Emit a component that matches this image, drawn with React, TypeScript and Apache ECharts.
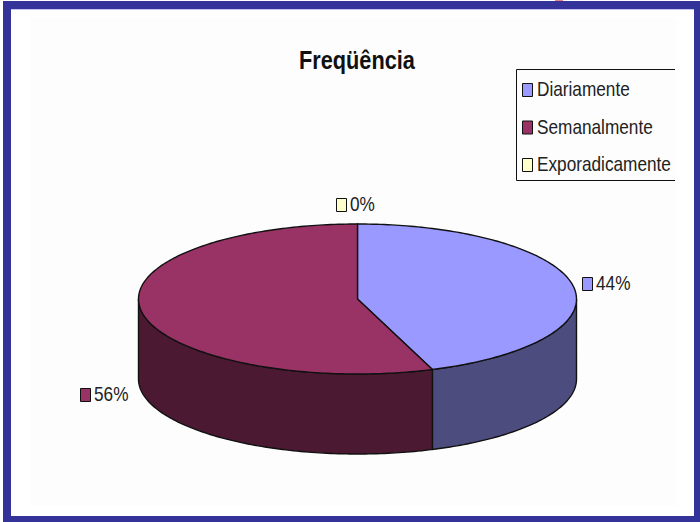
import React, { useEffect, useRef } from "react";
import * as echarts from "echarts";

const categories = ["Diariamente", "Semanalmente", "Exporadicamente"];
const values = [4, 5, 0];
const percentLabels = ["44%", "56%", "0%"];
const titleText = "Freqüência";
const topColors = ["#9999FF", "#993366", "#FFFFCC"];
const sideColors = ["#4C4C7F", "#4C1933", "#7F7F66"];
// label marker offsets from the slice's rim mid-point
const labelOffsets = [[14, -3], [-57, 82], [-16, -20]];
const legendRows = [90, 127.5, 165];

const FONT = '"Liberation Sans", Arial, sans-serif';
const CX = 357.5, CY = 299, RX = 219, RY = 75, DEPTH = 80;
const EDGE = "#111111";
const NARROW = 0.82;

const total = values.reduce((a, b) => a + b, 0);

function rim(deg: number, dy = 0): number[] {
  const t = (deg * Math.PI) / 180;
  return [CX + RX * Math.sin(t), CY - RY * Math.cos(t) + dy];
}
function arc(a: number, b: number, dy = 0): number[][] {
  const pts: number[][] = [];
  const n = Math.max(1, Math.ceil(Math.abs(b - a)));
  for (let i = 0; i <= n; i++) pts.push(rim(a + ((b - a) * i) / n, dy));
  return pts;
}
function narrowText(text: string, x: number, y: number, font: string, fill: string) {
  return {
    type: "text",
    x,
    y,
    scaleX: NARROW,
    style: { x: 0, y: 0, text, font, fill, textAlign: "left", textVerticalAlign: "middle" },
  };
}

function sliceItem(index: number) {
  const before = values.slice(0, index).reduce((a, b) => a + b, 0);
  return (_params: any, api: any) => {
    const v = api.value(0);
    const a0 = (before / total) * 360;
    const a1 = ((before + v) / total) * 360;
    const children: any[] = [];
    const s0 = Math.max(a0, 90), s1 = Math.min(a1, 270);
    if (s1 > s0) {
      children.push({
        type: "polygon",
        shape: { points: [...arc(s0, s1), ...arc(s1, s0, DEPTH)] },
        style: { fill: sideColors[index], stroke: EDGE, lineWidth: 1.4 },
      });
    }
    if (a1 > a0) {
      children.push({
        type: "polygon",
        shape: { points: [[CX, CY], ...arc(a0, a1)] },
        style: { fill: topColors[index], stroke: EDGE, lineWidth: 1.4 },
      });
    }
    const mid = rim((a0 + a1) / 2);
    const mx = mid[0] + labelOffsets[index][0];
    const my = mid[1] + labelOffsets[index][1];
    children.push({
      type: "rect",
      shape: { x: Math.round(mx) - 5 + 0.5, y: Math.round(my) - 6 + 0.5, width: 10, height: 13 },
      style: { fill: topColors[index], stroke: EDGE, lineWidth: 1 },
    });
    children.push(narrowText(percentLabels[index], Math.round(mx) + 9, Math.round(my), `21px ${FONT}`, "#222222"));
    return { type: "group", children };
  };
}

export default function App() {
  const ref = useRef<HTMLDivElement>(null);
  useEffect(() => {
    const chart = echarts.init(ref.current!, undefined, { renderer: "svg" });
    chart.setOption({
      animation: false,
      backgroundColor: "#FFFFFF",
      graphic: [
        { type: "rect", z: -10, shape: { x: 3, y: 1, width: 697, height: 521 }, style: { fill: "#333399" } },
        { type: "rect", z: -9, shape: { x: 11, y: 9, width: 683, height: 507 }, style: { fill: "#FFFFFF" } },
        { type: "rect", z: -8, shape: { x: 11, y: 9, width: 683, height: 1 }, style: { fill: "#C4C4F0" } },
        { type: "rect", z: -8, shape: { x: 30, y: 18, width: 646, height: 488 }, style: { fill: "#FDFDFD" } },
        { type: "rect", z: -8, shape: { x: 555, y: 0, width: 8, height: 1 }, style: { fill: "#F08080" } },
        {
          type: "polyline",
          z: -7,
          shape: { points: [[675, 69.5], [516.5, 69.5], [516.5, 180.5], [675, 180.5]] },
          style: { fill: "none", stroke: EDGE, lineWidth: 1 },
        },
        narrowText(titleText, 299, 60, `bold 26.5px ${FONT}`, "#111111"),
        ...categories.flatMap((name, i) => [
          {
            type: "rect",
            shape: { x: 522.5, y: legendRows[i] - 6.5, width: 10, height: 13 },
            style: { fill: topColors[i], stroke: EDGE, lineWidth: 1 },
          },
          narrowText(name, 537, legendRows[i] - 1, `21px ${FONT}`, "#222222"),
        ]),
      ],
      series: categories.map((name, i) => ({
        type: "custom",
        name,
        coordinateSystem: "none",
        silent: true,
        itemStyle: { color: topColors[i] },
        renderItem: sliceItem(i),
        data: [[values[i]]],
      })),
    });
    return () => chart.dispose();
  }, []);
  return <div ref={ref} style={{ position: "fixed", left: 0, top: 0, width: 700, height: 522 }} />;
}
